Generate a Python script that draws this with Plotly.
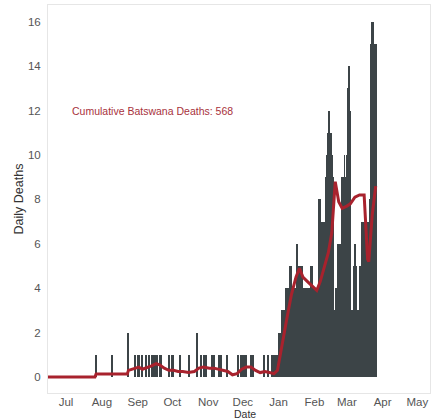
import plotly.graph_objects as go
import pandas as pd

# ---- Data ----
# Sparse early daily deaths (date, count)
early_dates = ["2020-07-27", "2020-08-10", "2020-08-24", "2020-08-30", "2020-09-01",
               "2020-09-02", "2020-09-05", "2020-09-08", "2020-09-11", "2020-09-13",
               "2020-09-14", "2020-09-16", "2020-09-17", "2020-09-18", "2020-09-20",
               "2020-09-21", "2020-09-28", "2020-10-01", "2020-10-02", "2020-10-08",
               "2020-10-15", "2020-10-22", "2020-10-26", "2020-10-28", "2020-10-30",
               "2020-11-04", "2020-11-06", "2020-11-10", "2020-11-12", "2020-11-17",
               "2020-11-27", "2020-11-29", "2020-12-01", "2020-12-02", "2020-12-04",
               "2020-12-08", "2020-12-10", "2020-12-19", "2020-12-23", "2020-12-26"]
early_values = [1, 1, 2, 1, 1,
                1, 1, 1, 1, 1,
                1, 1, 1, 1, 1,
                1, 1, 1, 1, 1,
                1, 2, 1, 1, 1,
                1, 1, 1, 1, 1,
                1, 1, 1, 1, 1,
                1, 1, 1, 1, 1]

# Dense daily deaths from 2020-12-28 onward
dense_start = "2020-12-28"
dense_values = [1, 1, 1, 1,                      # Dec 28 - Dec 31
                2, 2, 2, 3, 3, 3, 4, 4, 4, 4,    # Jan 1 - 10
                5, 5, 4, 4, 4, 4, 6, 5, 5, 5,    # Jan 11 - 20
                5, 3, 4, 3, 4, 4, 4, 4, 5, 5, 4, # Jan 21 - 31
                4, 4, 4, 4, 8, 8, 7, 7, 6, 7,    # Feb 1 - 10
                9, 10, 11, 12, 11, 10, 9, 3, 3, 4, # Feb 11 - 20
                6, 3, 6, 6, 9, 9, 10, 9,         # Feb 21 - 28
                10, 13, 14, 12, 3, 3, 5, 6, 5, 3, # Mar 1 - 10
                3, 5, 3, 7, 7, 7, 7, 7, 7, 7,    # Mar 11 - 20
                8, 15, 16, 16, 15, 15]           # Mar 21 - 26

# Rolling-average line
avg_dates = ["2020-06-15", "2020-07-26", "2020-07-27", "2020-08-23", "2020-08-24",
             "2020-08-30", "2020-09-02", "2020-09-05", "2020-09-08", "2020-09-13",
             "2020-09-17", "2020-09-20", "2020-09-24", "2020-09-28", "2020-10-02",
             "2020-10-06", "2020-10-10", "2020-10-15", "2020-10-20", "2020-10-24",
             "2020-10-28", "2020-11-02", "2020-11-06", "2020-11-10", "2020-11-14",
             "2020-11-18", "2020-11-22", "2020-11-26", "2020-11-30", "2020-12-04",
             "2020-12-08", "2020-12-12", "2020-12-16", "2020-12-20", "2020-12-24",
             "2020-12-28", "2020-12-31", "2021-01-04", "2021-01-08", "2021-01-12",
             "2021-01-16", "2021-01-19", "2021-01-22", "2021-01-26", "2021-01-30",
             "2021-02-03", "2021-02-06", "2021-02-10", "2021-02-13", "2021-02-16",
             "2021-02-19", "2021-02-22", "2021-02-25", "2021-03-01", "2021-03-04",
             "2021-03-08", "2021-03-12", "2021-03-16", "2021-03-19", "2021-03-20",
             "2021-03-23", "2021-03-26"]
avg_values = [0, 0, 0.14, 0.14, 0.3,
              0.4, 0.45, 0.35, 0.4, 0.5,
              0.6, 0.55, 0.4, 0.3, 0.3,
              0.25, 0.25, 0.2, 0.25, 0.4,
              0.45, 0.4, 0.4, 0.35, 0.3,
              0.25, 0.1, 0.15, 0.35, 0.45,
              0.45, 0.3, 0.2, 0.25, 0.2,
              0.15, 0.3, 1.5, 2.6, 3.7,
              4.5, 4.9, 4.5, 4.3, 4.1,
              3.9, 4.3, 5.0, 5.6, 6.5,
              8.8, 7.9, 7.6, 7.7, 7.8,
              8.1, 8.2, 8.2, 5.3, 5.2,
              7.3, 8.6]

annotation_text = "Cumulative Batswana Deaths: 568"
month_labels_fmt = "%b"

# ---- Build ----
dense_dates = pd.date_range(dense_start, periods=len(dense_values), freq="D")
bar_x = list(pd.to_datetime(early_dates)) + list(dense_dates)
bar_y = early_values + dense_values

FONT = "Liberation Sans, Arial, Helvetica, sans-serif"
BAR_COLOR = "#3c4447"
RED = "#a8222d"

fig = go.Figure()
fig.add_trace(go.Bar(
    x=bar_x, y=bar_y,
    width=86400000 * 0.85,
    marker=dict(color=BAR_COLOR, line=dict(width=0)),
    showlegend=False,
))
fig.add_trace(go.Scatter(
    x=pd.to_datetime(avg_dates), y=avg_values,
    mode="lines",
    line=dict(color=RED, width=3),
    showlegend=False,
))

fig.add_annotation(
    x="2020-07-04", y=12, xref="x", yref="y",
    text=annotation_text, showarrow=False,
    xanchor="left", yanchor="middle",
    font=dict(family=FONT, size=10.5, color="#a8323c"),
)
fig.add_annotation(
    x=0.515, y=-0.054, xref="paper", yref="paper",
    text="Date", showarrow=False,
    xanchor="center", yanchor="middle",
    font=dict(family=FONT, size=10.5, color="#333333"),
)

fig.update_layout(
    width=431, height=419,
    margin=dict(l=48, r=1, t=5, b=26, autoexpand=False),
    paper_bgcolor="white", plot_bgcolor="white",
    bargap=0,
    font=dict(family=FONT, color="#555555", size=11),
    xaxis=dict(
        type="date", automargin=False,
        range=["2020-06-15 09:00", "2021-05-12"],
        dtick="M1", tick0="2020-07-01", tickformat=month_labels_fmt,
        showgrid=False, zeroline=False,
        showline=True, linecolor="#e6e6e6", linewidth=1, mirror=True,
        ticks="", ticklabelstandoff=-2,
        tickfont=dict(size=11.5, color="#555555"),
    ),
    yaxis=dict(
        automargin=False,
        range=[-0.72, 16.76],
        tickvals=[0, 2, 4, 6, 8, 10, 12, 14, 16],
        showgrid=False, zeroline=False,
        showline=True, linecolor="#e6e6e6", linewidth=1, mirror=True,
        ticks="", ticklabelstandoff=4,
        tickfont=dict(size=11.5, color="#555555"),
        title=dict(text="Daily Deaths", font=dict(size=12.5, color="#333333"), standoff=1),
    ),
)

fig.write_html(
    "out.html",
    config={"displayModeBar": False},
    post_script="document.body.style.margin='0';document.body.style.overflow='hidden';",
)
